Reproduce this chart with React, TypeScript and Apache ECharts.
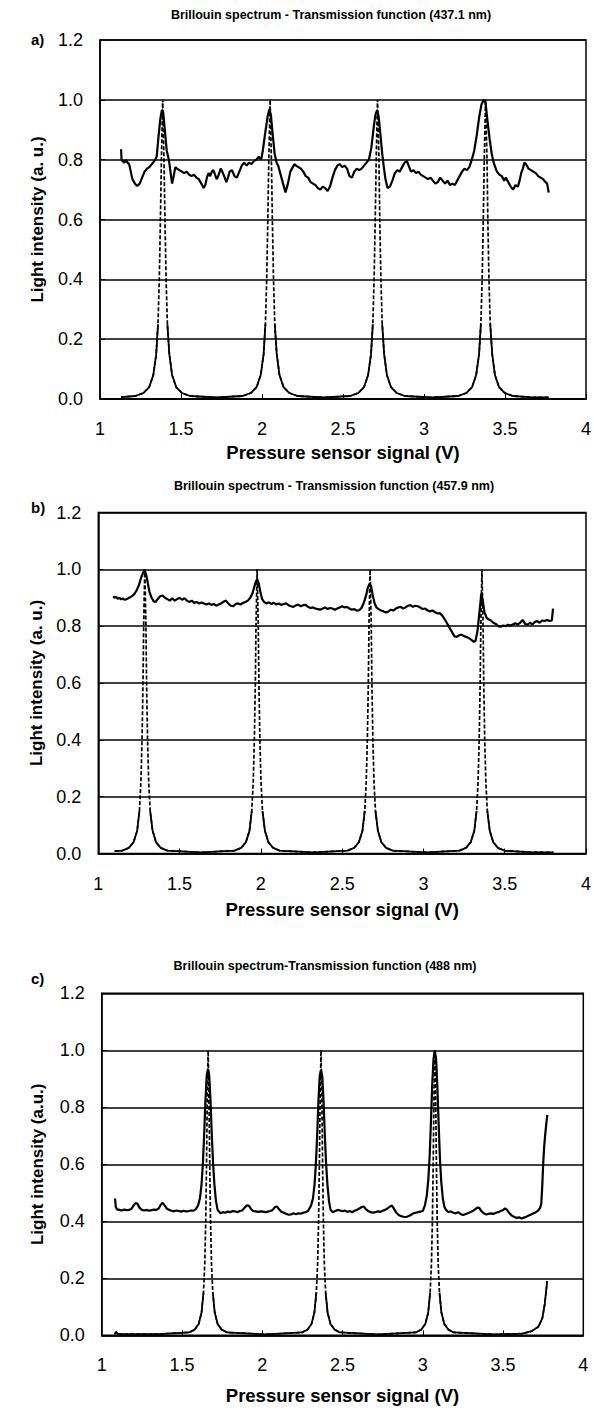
import React, { useEffect, useRef } from "react";
import * as echarts from "echarts";

const FONT = '"Liberation Sans", Arial, Helvetica, sans-serif';

const chartTitles = [
  "Brillouin spectrum - Transmission function (437.1 nm)",
  "Brillouin spectrum - Transmission function (457.9 nm)",
  "Brillouin spectrum-Transmission function (488 nm)",
];
const panelTags = ["a)", "b)", "c)"];
const yAxisNames = ["Light intensity (a. u.)", "Light intensity (a. u.)", "Light intensity (a.u.)"];
const xAxisName = "Pressure sensor signal (V)";

// Transmission function (dashed) — panel a
const aTrans: number[][] = [
  [1.13, 0.006], [1.218, 0.01], [1.268, 0.02], [1.304, 0.04], [1.329, 0.08], [1.347, 0.15], [1.358, 0.25], [1.366, 0.4], [1.373, 0.6], [1.379, 0.8], [1.387, 1.0],
  [1.395, 0.8], [1.401, 0.6], [1.408, 0.4], [1.416, 0.25], [1.428, 0.15], [1.445, 0.08], [1.47, 0.04], [1.506, 0.02], [1.556, 0.01], [1.72, 0.005],
  [1.88, 0.01], [1.931, 0.02], [1.967, 0.04], [1.992, 0.08], [2.01, 0.15], [2.021, 0.25], [2.029, 0.4], [2.036, 0.6], [2.042, 0.8], [2.05, 1.0],
  [2.058, 0.8], [2.064, 0.6], [2.071, 0.4], [2.079, 0.25], [2.091, 0.15], [2.108, 0.08], [2.133, 0.04], [2.169, 0.02], [2.219, 0.01], [2.38, 0.005],
  [2.544, 0.01], [2.594, 0.02], [2.63, 0.04], [2.655, 0.08], [2.673, 0.15], [2.684, 0.25], [2.692, 0.4], [2.699, 0.6], [2.705, 0.8], [2.713, 1.0],
  [2.722, 0.8], [2.727, 0.6], [2.734, 0.4], [2.742, 0.25], [2.754, 0.15], [2.771, 0.08], [2.796, 0.04], [2.832, 0.02], [2.882, 0.01], [3.05, 0.005],
  [3.211, 0.01], [3.261, 0.02], [3.297, 0.04], [3.322, 0.08], [3.34, 0.15], [3.351, 0.25], [3.359, 0.4], [3.366, 0.6], [3.372, 0.8], [3.38, 1.0],
  [3.389, 0.8], [3.394, 0.6], [3.401, 0.4], [3.409, 0.25], [3.421, 0.15], [3.438, 0.08], [3.463, 0.04], [3.499, 0.02], [3.549, 0.01], [3.65, 0.006], [3.77, 0.005],
];

// Brillouin spectrum (solid) — panel a
const aSpec: number[][] = [
  [1.13, 0.835], [1.133, 0.8], [1.14, 0.795], [1.15, 0.79], [1.16, 0.8], [1.17, 0.79], [1.18, 0.785], [1.19, 0.76], [1.2, 0.735], [1.215, 0.72],
  [1.23, 0.712], [1.245, 0.72], [1.26, 0.74], [1.275, 0.76], [1.29, 0.77], [1.305, 0.775], [1.32, 0.785], [1.335, 0.795], [1.35, 0.81], [1.36, 0.87],
  [1.372, 0.935], [1.382, 0.965], [1.39, 0.96], [1.4, 0.9], [1.412, 0.83], [1.425, 0.8], [1.435, 0.76], [1.445, 0.72], [1.455, 0.745], [1.465, 0.775],
  [1.475, 0.77], [1.49, 0.765], [1.505, 0.76], [1.52, 0.755], [1.535, 0.76], [1.55, 0.75], [1.565, 0.745], [1.58, 0.75], [1.595, 0.74], [1.61, 0.735],
  [1.625, 0.72], [1.64, 0.705], [1.65, 0.715], [1.66, 0.74], [1.67, 0.755], [1.68, 0.745], [1.69, 0.76], [1.7, 0.765], [1.71, 0.75], [1.72, 0.735],
  [1.73, 0.745], [1.745, 0.77], [1.755, 0.76], [1.77, 0.74], [1.78, 0.725], [1.79, 0.74], [1.8, 0.76], [1.815, 0.765], [1.83, 0.745], [1.845, 0.74],
  [1.86, 0.76], [1.875, 0.78], [1.89, 0.79], [1.905, 0.78], [1.92, 0.79], [1.935, 0.785], [1.95, 0.795], [1.965, 0.8], [1.98, 0.81], [1.995, 0.8],
  [2.005, 0.83], [2.02, 0.89], [2.035, 0.945], [2.045, 0.968], [2.055, 0.95], [2.065, 0.89], [2.078, 0.82], [2.09, 0.79], [2.1, 0.78], [2.115, 0.75],
  [2.13, 0.72], [2.145, 0.69], [2.16, 0.72], [2.175, 0.76], [2.19, 0.775], [2.2, 0.785], [2.21, 0.78], [2.225, 0.775], [2.24, 0.77], [2.255, 0.76],
  [2.27, 0.745], [2.285, 0.74], [2.3, 0.725], [2.315, 0.72], [2.33, 0.715], [2.345, 0.705], [2.36, 0.7], [2.375, 0.71], [2.39, 0.705], [2.405, 0.695],
  [2.42, 0.71], [2.435, 0.74], [2.45, 0.765], [2.465, 0.78], [2.48, 0.785], [2.495, 0.775], [2.51, 0.78], [2.525, 0.77], [2.54, 0.745], [2.555, 0.74],
  [2.57, 0.76], [2.585, 0.77], [2.6, 0.765], [2.615, 0.77], [2.63, 0.78], [2.645, 0.79], [2.66, 0.8], [2.675, 0.84], [2.69, 0.91], [2.7, 0.95],
  [2.71, 0.965], [2.72, 0.945], [2.73, 0.89], [2.742, 0.82], [2.752, 0.775], [2.762, 0.735], [2.775, 0.705], [2.79, 0.71], [2.805, 0.73], [2.82, 0.755],
  [2.835, 0.765], [2.85, 0.76], [2.865, 0.775], [2.88, 0.79], [2.895, 0.795], [2.905, 0.78], [2.92, 0.76], [2.935, 0.765], [2.95, 0.755], [2.965, 0.76],
  [2.98, 0.75], [2.995, 0.745], [3.01, 0.74], [3.025, 0.735], [3.04, 0.74], [3.055, 0.73], [3.07, 0.72], [3.085, 0.725], [3.1, 0.74], [3.115, 0.73],
  [3.13, 0.72], [3.145, 0.73], [3.16, 0.715], [3.175, 0.72], [3.19, 0.715], [3.205, 0.73], [3.22, 0.745], [3.235, 0.76], [3.25, 0.77], [3.265, 0.765],
  [3.28, 0.775], [3.295, 0.8], [3.31, 0.83], [3.325, 0.88], [3.34, 0.94], [3.355, 0.985], [3.37, 1.0], [3.38, 0.99], [3.392, 0.93], [3.405, 0.87],
  [3.418, 0.82], [3.43, 0.79], [3.44, 0.775], [3.45, 0.76], [3.465, 0.75], [3.48, 0.745], [3.495, 0.73], [3.505, 0.74], [3.52, 0.725], [3.535, 0.71],
  [3.55, 0.7], [3.565, 0.715], [3.58, 0.71], [3.59, 0.73], [3.6, 0.755], [3.61, 0.77], [3.62, 0.79], [3.63, 0.785], [3.645, 0.77], [3.66, 0.765],
  [3.675, 0.76], [3.69, 0.755], [3.705, 0.745], [3.72, 0.74], [3.735, 0.735], [3.75, 0.725], [3.76, 0.72], [3.77, 0.69],
];

// Transmission function (dashed) — panel b
const bTrans: number[][] = [
  [1.1, 0.008], [1.147, 0.01], [1.188, 0.02], [1.217, 0.04], [1.239, 0.08], [1.253, 0.15], [1.262, 0.25], [1.269, 0.4], [1.275, 0.6], [1.279, 0.8], [1.286, 1.0],
  [1.293, 0.8], [1.297, 0.6], [1.303, 0.4], [1.31, 0.25], [1.319, 0.15], [1.334, 0.08], [1.355, 0.04], [1.384, 0.02], [1.425, 0.01], [1.63, 0.004],
  [1.838, 0.01], [1.879, 0.02], [1.908, 0.04], [1.93, 0.08], [1.944, 0.15], [1.953, 0.25], [1.96, 0.4], [1.966, 0.6], [1.97, 0.8], [1.977, 1.0],
  [1.984, 0.8], [1.988, 0.6], [1.994, 0.4], [2.001, 0.25], [2.01, 0.15], [2.025, 0.08], [2.046, 0.04], [2.075, 0.02], [2.116, 0.01], [2.32, 0.004],
  [2.533, 0.01], [2.574, 0.02], [2.603, 0.04], [2.625, 0.08], [2.639, 0.15], [2.648, 0.25], [2.655, 0.4], [2.661, 0.6], [2.665, 0.8], [2.672, 1.0],
  [2.679, 0.8], [2.683, 0.6], [2.689, 0.4], [2.696, 0.25], [2.705, 0.15], [2.72, 0.08], [2.741, 0.04], [2.77, 0.02], [2.811, 0.01], [3.02, 0.004],
  [3.221, 0.01], [3.262, 0.02], [3.291, 0.04], [3.313, 0.08], [3.327, 0.15], [3.336, 0.25], [3.343, 0.4], [3.349, 0.6], [3.353, 0.8], [3.36, 1.0],
  [3.367, 0.8], [3.371, 0.6], [3.377, 0.4], [3.384, 0.25], [3.393, 0.15], [3.408, 0.08], [3.429, 0.04], [3.458, 0.02], [3.499, 0.01], [3.65, 0.005], [3.8, 0.004],
];

// Brillouin spectrum (solid) — panel b
const bSpec: number[][] = [
  [1.092, 0.905], [1.1, 0.9], [1.11, 0.903], [1.12, 0.896], [1.13, 0.9], [1.14, 0.894], [1.15, 0.898], [1.16, 0.893], [1.175, 0.895], [1.19, 0.9],
  [1.205, 0.905], [1.22, 0.912], [1.235, 0.925], [1.25, 0.945], [1.262, 0.968], [1.275, 0.988], [1.285, 0.997], [1.295, 0.98], [1.305, 0.95], [1.315, 0.92],
  [1.328, 0.9], [1.34, 0.888], [1.352, 0.885], [1.365, 0.895], [1.38, 0.905], [1.395, 0.908], [1.41, 0.9], [1.425, 0.895], [1.44, 0.89], [1.455, 0.898],
  [1.47, 0.89], [1.485, 0.895], [1.5, 0.9], [1.515, 0.893], [1.53, 0.898], [1.545, 0.89], [1.56, 0.885], [1.575, 0.89], [1.59, 0.882], [1.605, 0.885],
  [1.62, 0.88], [1.635, 0.883], [1.65, 0.88], [1.665, 0.876], [1.68, 0.88], [1.695, 0.875], [1.71, 0.878], [1.725, 0.872], [1.74, 0.876], [1.755, 0.88],
  [1.77, 0.886], [1.785, 0.89], [1.8, 0.88], [1.815, 0.872], [1.83, 0.87], [1.845, 0.878], [1.86, 0.88], [1.875, 0.876], [1.89, 0.882], [1.905, 0.885],
  [1.92, 0.89], [1.935, 0.9], [1.948, 0.915], [1.958, 0.935], [1.968, 0.955], [1.977, 0.965], [1.987, 0.95], [1.997, 0.92], [2.008, 0.895], [2.02, 0.885],
  [2.035, 0.88], [2.05, 0.884], [2.065, 0.878], [2.08, 0.882], [2.095, 0.876], [2.11, 0.88], [2.125, 0.875], [2.14, 0.878], [2.155, 0.88], [2.17, 0.874],
  [2.185, 0.87], [2.2, 0.868], [2.215, 0.873], [2.23, 0.876], [2.245, 0.87], [2.26, 0.874], [2.275, 0.875], [2.29, 0.868], [2.305, 0.864], [2.32, 0.866],
  [2.335, 0.862], [2.35, 0.86], [2.365, 0.858], [2.38, 0.862], [2.395, 0.866], [2.41, 0.86], [2.425, 0.864], [2.44, 0.862], [2.455, 0.858], [2.47, 0.862],
  [2.485, 0.866], [2.5, 0.87], [2.515, 0.866], [2.53, 0.868], [2.545, 0.862], [2.56, 0.858], [2.575, 0.86], [2.59, 0.855], [2.605, 0.856], [2.62, 0.865],
  [2.635, 0.885], [2.648, 0.91], [2.658, 0.935], [2.668, 0.95], [2.678, 0.94], [2.688, 0.91], [2.7, 0.88], [2.712, 0.865], [2.725, 0.86], [2.74, 0.855],
  [2.755, 0.852], [2.77, 0.848], [2.785, 0.852], [2.8, 0.858], [2.815, 0.855], [2.83, 0.862], [2.845, 0.866], [2.86, 0.868], [2.875, 0.862], [2.89, 0.866],
  [2.905, 0.872], [2.92, 0.874], [2.935, 0.868], [2.95, 0.872], [2.965, 0.87], [2.98, 0.866], [2.995, 0.86], [3.01, 0.862], [3.025, 0.856], [3.04, 0.852],
  [3.055, 0.855], [3.07, 0.85], [3.085, 0.845], [3.1, 0.846], [3.115, 0.838], [3.13, 0.825], [3.145, 0.81], [3.16, 0.795], [3.175, 0.78], [3.19, 0.765],
  [3.205, 0.762], [3.22, 0.768], [3.235, 0.77], [3.25, 0.765], [3.265, 0.762], [3.28, 0.758], [3.295, 0.752], [3.31, 0.745], [3.32, 0.748], [3.332, 0.78],
  [3.345, 0.85], [3.356, 0.915], [3.365, 0.89], [3.375, 0.85], [3.388, 0.83], [3.4, 0.824], [3.415, 0.82], [3.43, 0.812], [3.445, 0.808], [3.46, 0.8],
  [3.475, 0.798], [3.49, 0.802], [3.505, 0.8], [3.52, 0.805], [3.535, 0.802], [3.55, 0.806], [3.565, 0.81], [3.58, 0.806], [3.595, 0.812], [3.61, 0.822],
  [3.625, 0.808], [3.64, 0.805], [3.655, 0.812], [3.67, 0.806], [3.685, 0.815], [3.7, 0.818], [3.715, 0.812], [3.73, 0.82], [3.745, 0.818], [3.76, 0.822],
  [3.775, 0.818], [3.79, 0.82], [3.797, 0.862],
];

// Transmission function (dashed) — panel c
const cTrans: number[][] = [
  [1.08, 0.004], [1.09, 0.012], [1.1, 0.004], [1.35, 0.004], [1.544, 0.01], [1.579, 0.02], [1.604, 0.04], [1.622, 0.08], [1.634, 0.15], [1.642, 0.25], [1.648, 0.4], [1.653, 0.6], [1.657, 0.8], [1.663, 1.0],
  [1.669, 0.8], [1.673, 0.6], [1.678, 0.4], [1.684, 0.25], [1.692, 0.15], [1.704, 0.08], [1.722, 0.04], [1.747, 0.02], [1.782, 0.01], [2.02, 0.003],
  [2.247, 0.01], [2.282, 0.02], [2.307, 0.04], [2.325, 0.08], [2.337, 0.15], [2.345, 0.25], [2.351, 0.4], [2.356, 0.6], [2.36, 0.8], [2.366, 1.0],
  [2.372, 0.8], [2.376, 0.6], [2.381, 0.4], [2.387, 0.25], [2.395, 0.15], [2.407, 0.08], [2.425, 0.04], [2.45, 0.02], [2.485, 0.01], [2.72, 0.003],
  [2.956, 0.01], [2.991, 0.02], [3.016, 0.04], [3.034, 0.08], [3.046, 0.15], [3.054, 0.25], [3.06, 0.4], [3.065, 0.6], [3.069, 0.8], [3.075, 1.0],
  [3.081, 0.8], [3.085, 0.6], [3.09, 0.4], [3.096, 0.25], [3.104, 0.15], [3.116, 0.08], [3.134, 0.04], [3.159, 0.02], [3.194, 0.01], [3.45, 0.003],
  [3.62, 0.006], [3.68, 0.015], [3.72, 0.03], [3.745, 0.06], [3.76, 0.11], [3.775, 0.19],
];

// Brillouin spectrum (solid) — panel c
const cSpec: number[][] = [
  [1.083, 0.48], [1.088, 0.45], [1.095, 0.442], [1.11, 0.44], [1.125, 0.438], [1.14, 0.441], [1.155, 0.439], [1.17, 0.44], [1.185, 0.443], [1.198, 0.455],
  [1.21, 0.464], [1.222, 0.462], [1.235, 0.448], [1.25, 0.44], [1.265, 0.438], [1.28, 0.44], [1.295, 0.437], [1.31, 0.439], [1.325, 0.441], [1.34, 0.44],
  [1.355, 0.445], [1.368, 0.458], [1.38, 0.465], [1.393, 0.455], [1.405, 0.445], [1.42, 0.44], [1.435, 0.437], [1.45, 0.435], [1.465, 0.438], [1.48, 0.436],
  [1.495, 0.434], [1.51, 0.437], [1.525, 0.435], [1.54, 0.436], [1.555, 0.438], [1.57, 0.437], [1.585, 0.442], [1.6, 0.455], [1.612, 0.48], [1.622, 0.53],
  [1.63, 0.6], [1.638, 0.7], [1.646, 0.82], [1.654, 0.91], [1.662, 0.935], [1.67, 0.91], [1.678, 0.82], [1.686, 0.7], [1.694, 0.6], [1.702, 0.53],
  [1.712, 0.47], [1.722, 0.44], [1.74, 0.428], [1.755, 0.432], [1.77, 0.43], [1.785, 0.434], [1.8, 0.432], [1.815, 0.436], [1.83, 0.435], [1.845, 0.432],
  [1.86, 0.436], [1.875, 0.438], [1.89, 0.448], [1.905, 0.456], [1.918, 0.454], [1.93, 0.443], [1.945, 0.436], [1.96, 0.435], [1.975, 0.433], [1.99, 0.435],
  [2.005, 0.434], [2.02, 0.432], [2.035, 0.434], [2.05, 0.436], [2.065, 0.44], [2.08, 0.45], [2.092, 0.452], [2.105, 0.442], [2.12, 0.433], [2.135, 0.43],
  [2.15, 0.426], [2.165, 0.423], [2.18, 0.424], [2.195, 0.428], [2.21, 0.425], [2.225, 0.428], [2.24, 0.427], [2.255, 0.43], [2.27, 0.432], [2.285, 0.436],
  [2.304, 0.455], [2.316, 0.48], [2.326, 0.53], [2.334, 0.6], [2.342, 0.7], [2.35, 0.82], [2.358, 0.91], [2.366, 0.93], [2.374, 0.91], [2.382, 0.82],
  [2.39, 0.7], [2.398, 0.6], [2.406, 0.53], [2.416, 0.47], [2.426, 0.44], [2.44, 0.432], [2.455, 0.436], [2.47, 0.44], [2.485, 0.438], [2.5, 0.435],
  [2.515, 0.438], [2.53, 0.433], [2.545, 0.436], [2.56, 0.432], [2.575, 0.437], [2.59, 0.44], [2.605, 0.445], [2.62, 0.45], [2.632, 0.452], [2.645, 0.443],
  [2.66, 0.436], [2.675, 0.432], [2.69, 0.43], [2.705, 0.432], [2.72, 0.435], [2.735, 0.433], [2.75, 0.437], [2.765, 0.44], [2.78, 0.445], [2.795, 0.452],
  [2.808, 0.455], [2.82, 0.445], [2.835, 0.43], [2.85, 0.422], [2.865, 0.418], [2.88, 0.416], [2.895, 0.415], [2.91, 0.418], [2.925, 0.422], [2.94, 0.428],
  [2.955, 0.43], [2.97, 0.432], [2.985, 0.434], [3.0, 0.436], [3.013, 0.455], [3.025, 0.49], [3.035, 0.55], [3.043, 0.63], [3.051, 0.75], [3.059, 0.88],
  [3.067, 0.97], [3.075, 1.0], [3.083, 0.97], [3.091, 0.87], [3.099, 0.74], [3.107, 0.62], [3.115, 0.54], [3.125, 0.48], [3.135, 0.45], [3.145, 0.44],
  [3.16, 0.432], [3.175, 0.435], [3.19, 0.43], [3.205, 0.428], [3.22, 0.432], [3.235, 0.426], [3.25, 0.422], [3.265, 0.425], [3.28, 0.428], [3.295, 0.432],
  [3.31, 0.436], [3.325, 0.442], [3.34, 0.448], [3.352, 0.447], [3.365, 0.436], [3.38, 0.428], [3.395, 0.424], [3.41, 0.426], [3.425, 0.428], [3.44, 0.426],
  [3.455, 0.43], [3.47, 0.432], [3.485, 0.436], [3.5, 0.44], [3.513, 0.445], [3.525, 0.44], [3.54, 0.428], [3.555, 0.42], [3.57, 0.415], [3.585, 0.412],
  [3.6, 0.414], [3.615, 0.41], [3.63, 0.413], [3.645, 0.416], [3.66, 0.42], [3.675, 0.424], [3.69, 0.428], [3.705, 0.432], [3.72, 0.438], [3.73, 0.446],
  [3.738, 0.46], [3.744, 0.52], [3.75, 0.6], [3.756, 0.66], [3.762, 0.7], [3.77, 0.745], [3.776, 0.773],
];

const transData = [aTrans, bTrans, cTrans];
const specData = [aSpec, bSpec, cSpec];
const solidBelow = [0.3, 0.2, 0.2];

const layout = [
  { left: 100, width: 488, top: 40, height: 359, titleX: 331, titleY: 15, tagY: 39, xGap: 44, yGap: 54 },
  { left: 98.3, width: 489.4, top: 512.5, height: 341, titleX: 334, titleY: 486, tagY: 507, xGap: 46, yGap: 52 },
  { left: 101.7, width: 481.6, top: 993.3, height: 342, titleX: 325, titleY: 966, tagY: 978, xGap: 51, yGap: 56 },
];

export default function App() {
  const ref = useRef<HTMLDivElement>(null);
  useEffect(() => {
    if (!ref.current) return;
    const chart = echarts.init(ref.current, undefined, { renderer: "svg" });
    const series: any[] = [];
    layout.forEach((_, i) => {
      series.push({
        type: "line",
        xAxisIndex: i,
        yAxisIndex: i,
        data: transData[i],
        symbol: "none",
        lineStyle: { color: "#000", width: 1.7, type: [4, 2] },
        z: 2,
      });
      series.push({
        type: "line",
        xAxisIndex: i,
        yAxisIndex: i,
        data: transData[i].map(([x, y]) => [x, y <= solidBelow[i] ? y : "-"]),
        symbol: "none",
        connectNulls: false,
        lineStyle: { color: "#000", width: 1.8 },
        z: 3,
      });
      series.push({
        type: "line",
        xAxisIndex: i,
        yAxisIndex: i,
        data: specData[i],
        symbol: "none",
        lineStyle: { color: "#000", width: 2.2 },
        z: 4,
      });
    });
    const graphic: any[] = [];
    layout.forEach((l, i) => {
      graphic.push({
        type: "text",
        x: l.titleX,
        y: l.titleY,
        style: {
          text: chartTitles[i],
          fill: "#000",
          fontFamily: FONT,
          fontWeight: "bold",
          fontSize: 12.5,
          align: "center",
          verticalAlign: "middle",
        },
      });
      graphic.push({
        type: "text",
        x: 31,
        y: l.tagY,
        style: {
          text: panelTags[i],
          fill: "#000",
          fontFamily: FONT,
          fontWeight: "bold",
          fontSize: 15,
          align: "left",
          verticalAlign: "middle",
        },
      });
    });
    chart.setOption({
      animation: false,
      backgroundColor: "#fff",
      grid: layout.map((l) => ({
        left: l.left,
        top: l.top,
        width: l.width,
        height: l.height,
        show: true,
        borderColor: "#000",
        borderWidth: 1.5,
        containLabel: false,
      })),
      xAxis: layout.map((l, i) => ({
        type: "value",
        gridIndex: i,
        min: 1,
        max: 4,
        interval: 0.5,
        name: xAxisName,
        nameLocation: "middle",
        nameGap: l.xGap,
        nameTextStyle: { fontFamily: FONT, fontWeight: "bold", fontSize: 18.5, color: "#000" },
        axisLine: { show: true, onZero: false, lineStyle: { color: "#000", width: 1.5 } },
        axisTick: { show: true, inside: true, length: 5, lineStyle: { color: "#000", width: 1 } },
        axisLabel: { margin: 21, fontFamily: FONT, fontSize: 18, color: "#000", formatter: (v: number) => String(v) },
        splitLine: { show: false },
      })),
      yAxis: layout.map((l, i) => ({
        type: "value",
        gridIndex: i,
        min: 0,
        max: 1.2,
        interval: 0.2,
        name: yAxisNames[i],
        nameLocation: "middle",
        nameGap: l.yGap,
        nameTextStyle: { fontFamily: FONT, fontWeight: "bold", fontSize: 17, color: "#000" },
        axisLine: { show: true, lineStyle: { color: "#000", width: 1.5 } },
        axisTick: { show: true, inside: true, length: 5, lineStyle: { color: "#000" } },
        axisLabel: { margin: 17, fontFamily: FONT, fontSize: 18, color: "#000", formatter: (v: number) => v.toFixed(1) },
        splitLine: { show: true, lineStyle: { color: "#000", width: 1.6 } },
      })),
      graphic,
      series,
    });
    return () => chart.dispose();
  }, []);
  return (
    <div
      ref={ref}
      style={{ position: "absolute", left: 0, top: 0, width: 594, height: 1410, background: "#fff" }}
    />
  );
}
